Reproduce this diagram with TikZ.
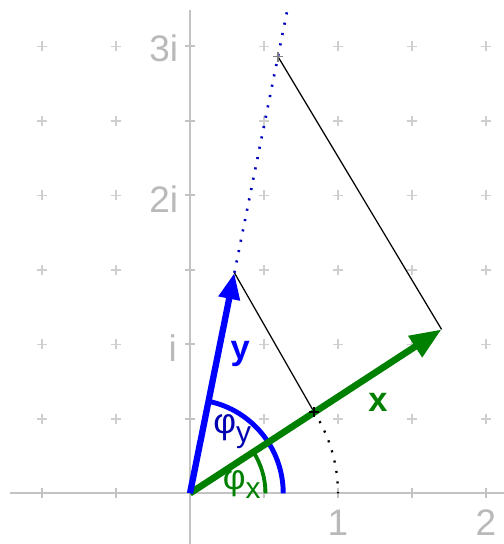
\documentclass[tikz,border=0pt]{standalone}
\usepackage{fontspec}
\setmainfont{Liberation Sans}
\usepackage{tikz}
\usetikzlibrary{arrows.meta,positioning,calc}
\definecolor{vecgreen}{RGB}{0,128,0}
\definecolor{axisgray}{RGB}{195,195,195}
\definecolor{lblgray}{RGB}{185,185,185}
\newcommand{\phisub}[1]{φ\raisebox{-0.45ex}{\fontsize{8.5}{9}\selectfont #1}}

\begin{document}
\begin{tikzpicture}[x=1.48cm, y=1.49cm,
  axis/.style={draw=axisgray, line width=0.6pt},
  gridmark/.style={draw=axisgray!80, line width=0.4pt},
  numlbl/.style={text=lblgray, inner sep=0pt, font=\fontsize{10.5}{12}\selectfont},
  vec/.style={line width=1.9pt, -{Triangle[length=9pt,width=6.8pt]}},
  helper/.style={draw=black, line width=0.35pt},
  dotline/.style={line width=0.65pt, dash pattern=on 0.6pt off 2.4pt},
  >={Triangle}]
\useasboundingbox (-1.2838,-0.3403) rectangle (2.1216,3.3107);

% grid marks and axis ticks
\foreach \gx in {-1,-0.5,0.5,1,1.5,2}
  \foreach \gy in {0.5,1,...,3}
    \draw[gridmark] ({\gx-0.034},\gy) -- ({\gx+0.034},\gy)
                    (\gx,{\gy-0.034}) -- (\gx,{\gy+0.034});
\draw[axis] (-1.216,0) -- (2.13,0);
\draw[axis] (0,-0.35) -- (0,3.244);
\foreach \gx in {-1,-0.5,0.5,1,1.5,2}
  \draw[axis] (\gx,-0.034) -- (\gx,0.034);
\foreach \gy in {0.5,1,...,3}
  \draw[axis] (-0.034,\gy) -- (0.034,\gy);

\node[numlbl] (re1) at (1,-0.195) {1};
\node[numlbl] (re2) at (2,-0.195) {2};
\node[numlbl, anchor=east] (im1) at (-0.085,0.975) {i};
\node[numlbl, anchor=east] (im2) at (-0.075,1.975) {2i};
\node[numlbl, anchor=east] (im3) at (-0.075,2.985) {3i};

% points
\coordinate (O) at (0,0);
\coordinate (X) at (1.70,1.10);
\coordinate (Y) at (0.30,1.48);
\coordinate (U) at (33:1);
\coordinate (P) at (0.595,2.93);
\coordinate (T) at (0.657,3.24);
\coordinate (E) at (1,0);

% construction
\draw[helper] (Y) -- (U);
\draw[helper] (X) -- (P);
\draw[dotline, blue!75!black, line width=0.75pt] (Y) -- (T);
\draw[dotline, black] (U) arc[start angle=33, end angle=0, radius=1];

% angles
\draw[blue, line width=1.4pt] (0.63,0) arc[start angle=0, end angle=78.5, radius=0.63];
\draw[vecgreen, line width=1.1pt] (0.51,0) arc[start angle=0, end angle=33, radius=0.51];

% vectors
\draw[vec, vecgreen] (O) -- (X);
\draw[vec, blue, line width=1.8pt, -{Triangle[length=7.5pt,width=5.8pt]}] (O) -- (Y);

\draw[helper, line width=0.5pt] ($(U)+(-0.034,0)$) -- ($(U)+(0.034,0)$)
  ($(U)+(0,-0.034)$) -- ($(U)+(0,0.034)$);
\draw[helper, draw=gray] ($(P)+(-0.034,0)$) -- ($(P)+(0.034,0)$)
  ($(P)+(0,-0.034)$) -- ($(P)+(0,0.034)$);

% labels
\node[text=blue, font=\bfseries\fontsize{9.8}{11}\selectfont] (ylbl) at (0.34,0.935) {y};
\node[text=vecgreen, font=\bfseries\fontsize{9.8}{11}\selectfont] (xlbl) at (1.27,0.61) {x};
\node[text=blue!70!black, inner sep=0pt, font=\fontsize{10}{11}\selectfont] (phiy) at (0.285,0.415) {\phisub{y}};
\node[text=vecgreen, inner sep=0pt, font=\fontsize{10}{11}\selectfont] (phix) at (0.35,0.06) {\phisub{x}};
\end{tikzpicture}
\end{document}
